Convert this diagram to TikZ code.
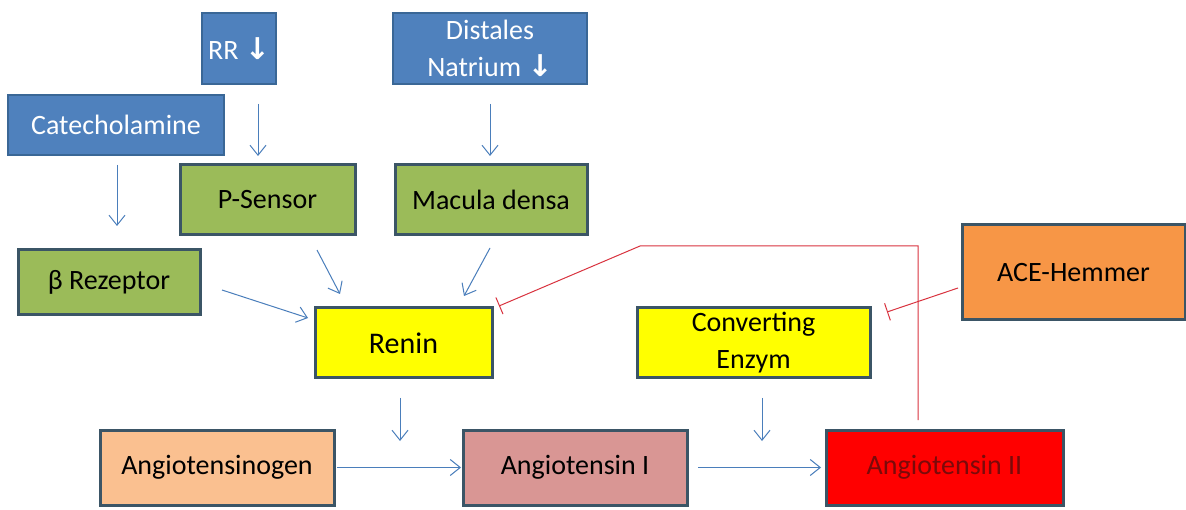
\documentclass[tikz,border=0pt]{standalone}
\usepackage{fontspec}
\setmainfont{Carlito}
\newfontfamily\symfont{DejaVu Sans}
\usetikzlibrary{arrows.meta}
\definecolor{boxblue}{HTML}{4F81BD}
\definecolor{edgeblue}{HTML}{3A6796}
\definecolor{boxgreen}{HTML}{9BBB59}
\definecolor{edgedark}{HTML}{3B5566}
\definecolor{boxyellow}{HTML}{FFFF00}
\definecolor{boxorange}{HTML}{F79646}
\definecolor{boxpeach}{HTML}{FAC090}
\definecolor{boxrose}{HTML}{D99694}
\definecolor{boxred}{HTML}{FF0000}
\definecolor{textmaroon}{HTML}{7A0A0A}
\definecolor{arrowblue}{HTML}{4A7EBB}
\definecolor{inhibred}{HTML}{D9333F}
\tikzset{
  box/.style={draw, rectangle, inner sep=0pt, align=center, font=\fontsize{28}{37}\selectfont},
  bluebox/.style={box, fill=boxblue, draw=edgeblue, line width=2pt, text=white},
  darkbox/.style={box, draw=edgedark, line width=3pt, text=black},
  flow/.style={draw=arrowblue, line width=1pt, -{Straight Barb[length=10pt,width=16pt]}},
  inhib/.style={draw=inhibred, line width=1pt, -{Bar[width=18pt]}},
}
\newcommand{\dn}{{\symfont\bfseries\fontsize{30}{37}\selectfont ↓}}
\begin{document}
\begin{tikzpicture}[x=1pt,y=-1pt]
\useasboundingbox (0,0) rectangle (1186,510);
\fill[white] (0,0) rectangle (1186,510);

% stimuli
\node[bluebox, minimum width=74pt, minimum height=71pt] (rr) at (239,48.5) {RR \dn};
\node[bluebox, minimum width=194pt, minimum height=71pt] (dist) at (490,48.5) {Distales\\Natrium \dn};
\node[bluebox, minimum width=216pt, minimum height=60pt] (cat) at (116,125) {Catecholamine};

% receptors and sensors
\node[darkbox, fill=boxgreen, minimum width=175pt, minimum height=70pt] (psens) at (267.5,200) {P-Sensor};
\node[darkbox, fill=boxgreen, minimum width=192pt, minimum height=70pt] (mac) at (491,200) {Macula densa};
\node[darkbox, fill=boxgreen, minimum width=182pt, minimum height=65pt] (beta) at (109,282.5) {β Rezeptor};

% enzymes
\node[darkbox, fill=boxyellow, minimum width=177pt, minimum height=70pt, font=\fontsize{30}{34}\selectfont] (renin) at (403.5,343) {Renin};
\node[darkbox, fill=boxyellow, minimum width=233pt, minimum height=70pt] (conv) at (753.5,343) {Converting\\Enzym};
\node[darkbox, fill=boxorange, minimum width=223pt, minimum height=95pt] (ace) at (1073.5,272.5) {ACE-Hemmer};

% peptides
\node[darkbox, fill=boxpeach, minimum width=234pt, minimum height=75pt] (agen) at (217,467.5) {Angiotensinogen};
\node[darkbox, fill=boxrose, minimum width=224pt, minimum height=75pt] (ang1) at (575,467.5) {Angiotensin I};
\node[darkbox, fill=boxred, minimum width=237pt, minimum height=75pt, text=textmaroon] (ang2) at (944.5,467.5) {Angiotensin II};

% arrow end points
\coordinate (rrA) at (258,104);   \coordinate (rrB) at (258,156);
\coordinate (diA) at (490,104);   \coordinate (diB) at (490,156);
\coordinate (caA) at (117,165);   \coordinate (caB) at (117,226);
\coordinate (psA) at (317,250);   \coordinate (psB) at (340,294);
\coordinate (maA) at (490,248);   \coordinate (maB) at (464,296);
\coordinate (beA) at (222,290);   \coordinate (beB) at (308,318);
\coordinate (reA) at (400,398);   \coordinate (reB) at (400,441);
\coordinate (coA) at (762,398);   \coordinate (coB) at (762,441);
\coordinate (agA) at (337,467.5); \coordinate (agB) at (461,467.5);
\coordinate (a1A) at (698,467.5); \coordinate (a1B) at (821,467.5);

\draw[flow] (rrA) -- (rrB);
\draw[flow] (diA) -- (diB);
\draw[flow] (caA) -- (caB);
\draw[flow] (psA) -- (psB);
\draw[flow] (maA) -- (maB);
\draw[flow] (beA) -- (beB);
\draw[flow] (reA) -- (reB);
\draw[flow] (coA) -- (coB);
\draw[flow] (agA) -- (agB);
\draw[flow] (a1A) -- (a1B);

% feedback inhibition of renin by angiotensin II
\coordinate (fbA) at (918,420);
\coordinate (fbB) at (918,246);
\coordinate (fbC) at (640,246);
\coordinate (fbD) at (499,306);
\draw[inhib] (fbA) -- (fbB) -- (fbC) -- (fbD);

% ACE inhibitor blocks converting enzyme
\coordinate (acA) at (958,288);
\coordinate (acB) at (887,312);
\draw[inhib] (acA) -- (acB);
\end{tikzpicture}
\end{document}
